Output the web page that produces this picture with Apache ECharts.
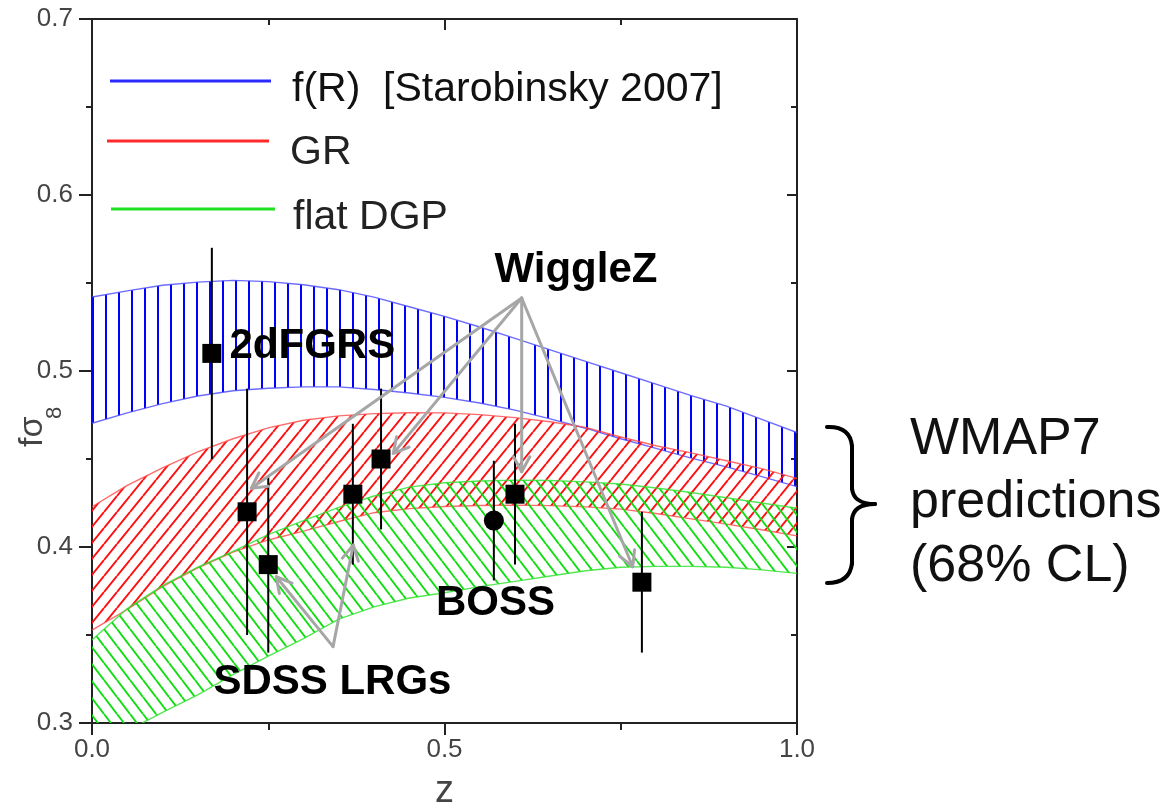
<!DOCTYPE html>
<html>
<head>
<meta charset="utf-8">
<script src="https://cdn.jsdelivr.net/npm/echarts@6/dist/echarts.min.js"></script>
<style>
  html, body { margin: 0; padding: 0; background: #fff; }
  #chart { width: 1173px; height: 807px; }
</style>
</head>
<body>
<div id="chart"></div>
<script>
// Redshift grid on which the model bands are sampled
const zGrid = [0.00, 0.05, 0.10, 0.15, 0.20, 0.25, 0.30, 0.35, 0.40, 0.45, 0.50,
               0.55, 0.60, 0.65, 0.70, 0.75, 0.80, 0.85, 0.90, 0.95, 1.00];

// f(R) [Starobinsky 2007] band, 68% CL
const fR_hi = [0.5420, 0.5455, 0.5487, 0.5505, 0.5515, 0.5508, 0.5490, 0.5462, 0.5420, 0.5365, 0.5310,
               0.5250, 0.5185, 0.5120, 0.5055, 0.4990, 0.4925, 0.4860, 0.4800, 0.4725, 0.4650];
const fR_lo = [0.4703, 0.4762, 0.4815, 0.4858, 0.4888, 0.4902, 0.4910, 0.4910, 0.4895, 0.4875, 0.4850,
               0.4818, 0.4778, 0.4728, 0.4675, 0.4615, 0.4560, 0.4505, 0.4455, 0.4400, 0.4343];
// GR band
const gr_hi = [0.4229, 0.4350, 0.4450, 0.4540, 0.4615, 0.4677, 0.4720, 0.4745, 0.4758, 0.4763, 0.4762,
               0.4752, 0.4735, 0.4712, 0.4680, 0.4625, 0.4575, 0.4535, 0.4490, 0.4445, 0.4390];
const gr_lo = [0.3528, 0.3645, 0.3775, 0.3882, 0.3971, 0.4040, 0.4090, 0.4145, 0.4195, 0.4218, 0.4230,
               0.4236, 0.4238, 0.4235, 0.4228, 0.4215, 0.4190, 0.4160, 0.4130, 0.4098, 0.4063];
// flat DGP band
const dgp_hi = [0.3472, 0.3650, 0.3780, 0.3885, 0.3975, 0.4070, 0.4150, 0.4225, 0.4290, 0.4340, 0.4365,
                0.4375, 0.4380, 0.4378, 0.4370, 0.4358, 0.4335, 0.4310, 0.4280, 0.4250, 0.4220];
const dgp_lo = [0.2830, 0.2955, 0.3060, 0.3160, 0.3275, 0.3380, 0.3480, 0.3590, 0.3660, 0.3710, 0.3740,
                0.3775, 0.3805, 0.3835, 0.3865, 0.3885, 0.3890, 0.3890, 0.3885, 0.3870, 0.3850];

// Measurements drawn as squares (2dFGRS, SDSS LRGs, WiggleZ)
const sqZ   = [0.17, 0.22, 0.25, 0.37, 0.41, 0.60, 0.78];
const sqF   = [0.51, 0.42, 0.39, 0.43, 0.45, 0.43, 0.38];
const sqErr = [0.06, 0.07, 0.05, 0.04, 0.04, 0.04, 0.04];
// BOSS measurement drawn as a circle
const bossZ   = [0.57];
const bossF   = [0.415];
const bossErr = [0.034];

// Survey names, anchored in data coordinates
const tagText  = ['2dFGRS', 'WiggleZ', 'SDSS LRGs', 'BOSS'];
const tagZ     = [0.195, 0.6865, 0.341, 0.5723];
const tagF     = [0.5138, 0.5574, 0.323, 0.368];
const tagAlign = ['left', 'center', 'center', 'center'];

// Pointer arrows: [z from, f from, z to, f to]
const arrowFromTo = [
  [0.6095, 0.5415, 0.226, 0.4334],
  [0.6095, 0.5415, 0.4274, 0.4532],
  [0.6095, 0.5415, 0.6095, 0.4428],
  [0.6095, 0.5415, 0.767, 0.3888],
  [0.3419, 0.3434, 0.2614, 0.3831],
  [0.3419, 0.3434, 0.3706, 0.4011]
];

// Axis ticks
const xTickStep = 0.5;
const yTickStep = 0.1;

const FONT = "'Liberation Sans', Arial, Helvetica, sans-serif";

// Hatch tiles used as repeating fills
function hatchTile(kind, color) {
  const W = 13, H = kind === 'vertical' ? 13 : (kind === 'up' ? 16 : 17);
  const c = document.createElement('canvas');
  c.width = W; c.height = H;
  const g = c.getContext('2d');
  g.strokeStyle = color;
  g.lineWidth = kind === 'vertical' ? 2 : 1.9;
  g.beginPath();
  if (kind === 'vertical') {
    g.moveTo(2, 0); g.lineTo(2, H);
  } else {
    for (let k = -1; k <= 1; k++) {
      if (kind === 'up') { g.moveTo(k * W, H); g.lineTo(k * W + W, 0); }
      else { g.moveTo(k * W, 0); g.lineTo(k * W + W, H); }
    }
  }
  g.stroke();
  return c;
}

function bandSeries(name, lo, hi, tile, edge) {
  return {
    type: 'custom',
    name: name,
    coordinateSystem: 'cartesian2d',
    silent: true,
    data: [[zGrid[0], lo[0]]],
    renderItem: function (params, api) {
      const upper = zGrid.map((z, i) => api.coord([z, hi[i]]));
      const lower = zGrid.map((z, i) => api.coord([z, lo[i]]));
      const poly = upper.concat(lower.slice().reverse());
      const cs = params.coordSys;
      return {
        type: 'group',
        clipPath: { type: 'rect', shape: { x: cs.x, y: cs.y, width: cs.width, height: cs.height } },
        children: [
          { type: 'polygon', shape: { points: poly }, style: { fill: { image: tile, repeat: 'repeat' }, stroke: null } },
          { type: 'polyline', shape: { points: upper }, style: { stroke: edge, lineWidth: 1.4, fill: null } },
          { type: 'polyline', shape: { points: lower }, style: { stroke: edge, lineWidth: 1.4, fill: null } }
        ]
      };
    }
  };
}

function errorSeries(zs, fs, es) {
  return {
    type: 'custom',
    coordinateSystem: 'cartesian2d',
    silent: true,
    data: zs.map((z, i) => [z, fs[i] - es[i], fs[i] + es[i]]),
    renderItem: function (params, api) {
      const a = api.coord([api.value(0), api.value(1)]);
      const b = api.coord([api.value(0), api.value(2)]);
      return { type: 'line', shape: { x1: a[0], y1: a[1], x2: b[0], y2: b[1] },
               style: { stroke: '#000', lineWidth: 2 } };
    }
  };
}

const axisColor = '#222';
function axisCommon(extra) {
  return Object.assign({
    type: 'value',
    splitLine: { show: false },
    axisLine: { show: true, onZero: false, lineStyle: { color: axisColor, width: 2 } },
    axisLabel: { show: false },
  }, extra);
}

const chart = echarts.init(document.getElementById('chart'), null, { renderer: 'canvas' });

const braceStyle = { stroke: '#000', lineWidth: 4, fill: null, lineCap: 'round' };

chart.setOption({
  backgroundColor: '#fff',
  animation: false,
  grid: { left: 92, top: 19, right: 376, bottom: 84, containLabel: false, outerBoundsMode: 'none' },
  xAxis: [
    axisCommon({
      position: 'bottom', min: 0, max: 1, interval: xTickStep,
      axisTick: { show: true, inside: false, length: 12, lineStyle: { color: axisColor, width: 2 } },
      minorTick: { show: true, splitNumber: 2, length: 7, lineStyle: { color: axisColor, width: 2 } },
      axisLabel: { show: true, formatter: v => v.toFixed(1), color: '#444', fontSize: 26, fontFamily: FONT, margin: 14 },
      name: 'z', nameLocation: 'middle', nameGap: 50,
      nameTextStyle: { color: '#444', fontSize: 38, fontFamily: FONT }
    }),
    axisCommon({
      position: 'top', min: 0, max: 1, interval: xTickStep,
      axisTick: { show: true, inside: true, length: 11, lineStyle: { color: axisColor, width: 2 } },
      minorTick: { show: true, splitNumber: 2, length: 6, lineStyle: { color: axisColor, width: 2 } }
    })
  ],
  yAxis: [
    axisCommon({
      position: 'left', min: 0.3, max: 0.7, interval: yTickStep,
      axisTick: { show: true, inside: false, length: 13, lineStyle: { color: axisColor, width: 2 } },
      minorTick: { show: true, splitNumber: 2, length: 6, lineStyle: { color: axisColor, width: 2 } },
      axisLabel: { show: true, formatter: v => v.toFixed(1), color: '#444', fontSize: 26, fontFamily: FONT, margin: 19 }
    }),
    axisCommon({
      position: 'right', min: 0.3, max: 0.7, interval: yTickStep,
      axisTick: { show: true, inside: true, length: 10, lineStyle: { color: axisColor, width: 2 } },
      minorTick: { show: true, splitNumber: 2, length: 6, lineStyle: { color: axisColor, width: 2 } }
    })
  ],
  series: [
    bandSeries('f(R) [Starobinsky 2007]', fR_lo, fR_hi, hatchTile('vertical', '#0000ff'), 'rgba(70,70,255,0.8)'),
    bandSeries('GR', gr_lo, gr_hi, hatchTile('up', '#ff1010'), 'rgba(255,70,70,0.8)'),
    bandSeries('flat DGP', dgp_lo, dgp_hi, hatchTile('down', '#10dd10'), 'rgba(40,225,40,0.8)'),
    errorSeries(sqZ, sqF, sqErr),
    errorSeries(bossZ, bossF, bossErr),
    {
      type: 'scatter', silent: true, symbol: 'rect', symbolSize: 19,
      itemStyle: { color: '#000', opacity: 1 },
      data: sqZ.map((z, i) => [z, sqF[i]])
    },
    {
      type: 'scatter', silent: true, symbol: 'circle', symbolSize: 20,
      itemStyle: { color: '#000', opacity: 1 },
      data: bossZ.map((z, i) => [z, bossF[i]])
    },
    {
      type: 'custom', coordinateSystem: 'cartesian2d', silent: true,
      data: arrowFromTo,
      renderItem: function (params, api) {
        const a = api.coord([api.value(0), api.value(1)]);
        const b = api.coord([api.value(2), api.value(3)]);
        const ang = Math.atan2(b[1] - a[1], b[0] - a[0]);
        const L = 17, spread = 0.5;
        const h1 = [b[0] - L * Math.cos(ang - spread), b[1] - L * Math.sin(ang - spread)];
        const h2 = [b[0] - L * Math.cos(ang + spread), b[1] - L * Math.sin(ang + spread)];
        const st = { stroke: '#a6a6a6', lineWidth: 3, fill: null, lineCap: 'round', lineJoin: 'round' };
        return {
          type: 'group',
          children: [
            { type: 'line', shape: { x1: a[0], y1: a[1], x2: b[0], y2: b[1] }, style: st },
            { type: 'polyline', shape: { points: [h1, b, h2] }, style: st }
          ]
        };
      }
    },
    {
      type: 'custom', coordinateSystem: 'cartesian2d', silent: true,
      data: tagZ.map((z, i) => [z, tagF[i]]),
      renderItem: function (params, api) {
        const p = api.coord([api.value(0), api.value(1)]);
        const i = params.dataIndex;
        return {
          type: 'text', x: p[0], y: p[1],
          style: { text: tagText[i], fill: '#000', font: 'bold 42px ' + FONT,
                   align: tagAlign[i], verticalAlign: 'middle' }
        };
      }
    }
  ],
  graphic: [
    // legend
    { type: 'line', shape: { x1: 110, y1: 81, x2: 271, y2: 81 }, style: { stroke: '#2a2aff', lineWidth: 3 } },
    { type: 'line', shape: { x1: 107, y1: 141, x2: 269, y2: 141 }, style: { stroke: '#ff2a2a', lineWidth: 3 } },
    { type: 'line', shape: { x1: 111, y1: 209, x2: 275, y2: 209 }, style: { stroke: '#22e022', lineWidth: 3 } },
    { type: 'text', x: 292, y: 90, style: { text: 'f(R)  [Starobinsky 2007]', font: '41px ' + FONT, fill: '#111', verticalAlign: 'middle' } },
    { type: 'text', x: 290, y: 153, style: { text: 'GR', font: '41px ' + FONT, fill: '#222', verticalAlign: 'middle' } },
    { type: 'text', x: 293, y: 218, style: { text: 'flat DGP', font: '41px ' + FONT, fill: '#222', verticalAlign: 'middle' } },
    // y-axis title f sigma_8, rotated
    {
      type: 'group', x: 45, y: 447, rotation: Math.PI / 2,
      children: [
        { type: 'text', x: 0, y: -12, style: { text: 'fσ', font: '34px ' + FONT, fill: '#444', verticalAlign: 'middle', align: 'left' } },
        { type: 'text', x: 28, y: 10, style: { text: '8', font: '22px ' + FONT, fill: '#444', verticalAlign: 'middle', align: 'left' } }
      ]
    },
    // brace grouping the model bands
    { type: 'bezierCurve', shape: { x1: 827, y1: 427, cpx1: 850, cpy1: 426, x2: 852, y2: 446 }, style: braceStyle },
    { type: 'line', shape: { x1: 852, y1: 446, x2: 852, y2: 489 }, style: braceStyle },
    { type: 'bezierCurve', shape: { x1: 852, y1: 488, cpx1: 853, cpy1: 504, x2: 875, y2: 504 }, style: braceStyle },
    { type: 'bezierCurve', shape: { x1: 875, y1: 504, cpx1: 853, cpy1: 504, x2: 852, y2: 520 }, style: braceStyle },
    { type: 'line', shape: { x1: 852, y1: 519, x2: 852, y2: 564 }, style: braceStyle },
    { type: 'bezierCurve', shape: { x1: 852, y1: 563, cpx1: 850, cpy1: 583, x2: 827, y2: 583 }, style: braceStyle },
    { type: 'text', x: 910, y: 440, style: { text: 'WMAP7', font: '52px ' + FONT, fill: '#111', verticalAlign: 'middle' } },
    { type: 'text', x: 910, y: 503, style: { text: 'predictions', font: '52px ' + FONT, fill: '#111', verticalAlign: 'middle' } },
    { type: 'text', x: 910, y: 567, style: { text: '(68% CL)', font: '52px ' + FONT, fill: '#111', verticalAlign: 'middle' } }
  ]
});
</script>
</body>
</html>
